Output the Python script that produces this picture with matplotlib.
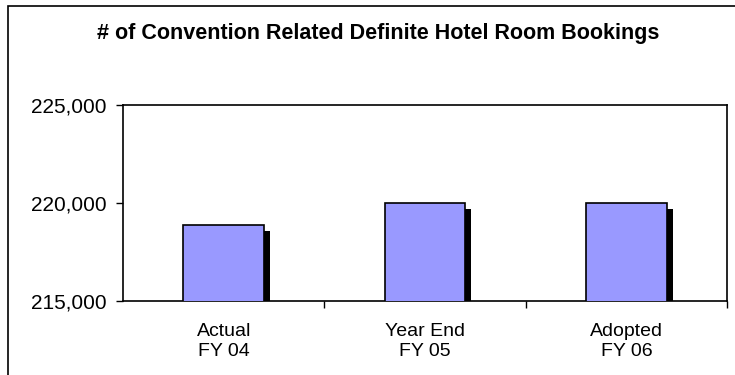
"""Convention related hotel room bookings bar chart."""

import matplotlib
matplotlib.use('Agg')
import matplotlib.pyplot as plt
import matplotlib.patheffects as pe
from matplotlib.patches import Rectangle
from matplotlib.ticker import FuncFormatter

CATEGORIES = ['Actual\nFY 04', 'Year End\nFY 05', 'Adopted\nFY 06']
BOOKINGS = [218870, 220000, 220000]
YTICKS = [215000, 220000, 225000]
TITLE = '# of Convention Related Definite Hotel Room Bookings'

plt.rcParams['font.family'] = ['Liberation Sans', 'DejaVu Sans']


def run():
    fig = plt.figure(figsize=(7.35, 3.75), dpi=100)
    ax = fig.add_axes([123 / 735, 1 - 301 / 375, 604 / 735, 196 / 375])

    xpos = list(range(len(CATEGORIES)))
    bars = ax.bar(xpos, BOOKINGS, width=0.4, color='#9999FF',
                  edgecolor='black', linewidth=1.2, zorder=3)
    for bar in bars:
        bar.set_path_effects([
            pe.SimplePatchShadow(offset=(4.3, -4.3), shadow_rgbFace='black',
                                 alpha=1.0),
            pe.Normal()])

    ax.set_xlim(-0.5, len(CATEGORIES) - 0.5)
    ax.set_ylim(YTICKS[0], YTICKS[-1])
    ax.set_yticks(YTICKS)
    ax.yaxis.set_major_formatter(FuncFormatter(lambda v, p: '{:,.0f}'.format(v)))
    ax.set_xticks(xpos)
    ax.set_xticklabels(CATEGORIES, linespacing=1.25)
    ax.set_xticks([x + 0.5 for x in xpos], minor=True)
    ax.tick_params(axis='x', which='major', length=0, pad=16, labelsize=14)
    ax.tick_params(axis='x', which='minor', length=5, width=1, direction='out')
    ax.tick_params(axis='y', length=5, width=1, pad=7, labelsize=15)
    for spine in ax.spines.values():
        spine.set_linewidth(1.2)

    fig.text(378 / 735, 1 - 34 / 375, TITLE, ha='center', va='center',
             fontsize=15.5, fontweight='bold')

    # outer chart frame (right and bottom fall outside the picture)
    fig.patches.append(Rectangle((8 / 735, -0.1), 1.2, 0.1 + (375 - 6) / 375,
                                 transform=fig.transFigure, fill=False,
                                 edgecolor='black', linewidth=1.2))

    fig.savefig('out.png', dpi=100)


if __name__ == '__main__':
    run()
